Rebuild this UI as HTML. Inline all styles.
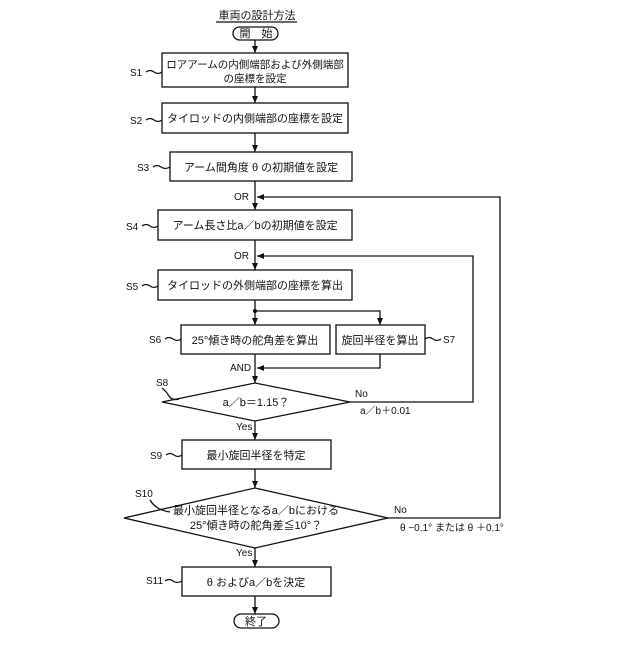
<!DOCTYPE html>
<html><head><meta charset="utf-8"><style>
body{margin:0;background:#fff}
svg text{font-family:"Liberation Sans","Noto Sans CJK JP",sans-serif;fill:#111}
</style></head><body>
<svg width="640" height="640" viewBox="0 0 640 640" xmlns="http://www.w3.org/2000/svg">
<defs><marker id="a" markerWidth="8" markerHeight="8" refX="7" refY="4" orient="auto" markerUnits="userSpaceOnUse"><path d="M0,1 L7,4 L0,7z" fill="#111"/></marker></defs>
<g stroke="#111" stroke-width="1.3" fill="none">
<line x1="216" y1="22" x2="297" y2="22"/>
<rect x="233" y="27" width="45" height="13" rx="6.5"/>
<rect x="162" y="53" width="186" height="34"/>
<rect x="162" y="103" width="186" height="30"/>
<rect x="170" y="152" width="182" height="29"/>
<rect x="158" y="210" width="194" height="30"/>
<rect x="158" y="270" width="194" height="30"/>
<rect x="181" y="325" width="149" height="29"/>
<rect x="336" y="325" width="89" height="29"/>
<polygon points="162,402 255,383 350,402 255,421"/>
<rect x="182" y="440" width="149" height="29"/>
<polygon points="124,518 255,488 388,518 255,548"/>
<rect x="182" y="567" width="149" height="29"/>
<rect x="234" y="614" width="45" height="14" rx="7"/>
<line x1="255" y1="40" x2="255" y2="53" marker-end="url(#a)"/>
<line x1="255" y1="87" x2="255" y2="103" marker-end="url(#a)"/>
<line x1="255" y1="133" x2="255" y2="152" marker-end="url(#a)"/>
<line x1="255" y1="181" x2="255" y2="210" marker-end="url(#a)"/>
<line x1="255" y1="240" x2="255" y2="270" marker-end="url(#a)"/>
<line x1="255" y1="300" x2="255" y2="325" marker-end="url(#a)"/>
<polyline points="255,311 380,311 380,325" marker-end="url(#a)"/>
<line x1="255" y1="354" x2="255" y2="383" marker-end="url(#a)"/>
<polyline points="380,354 380,368 257,368" marker-end="url(#a)"/>
<line x1="255" y1="421" x2="255" y2="440" marker-end="url(#a)"/>
<line x1="255" y1="469" x2="255" y2="488" marker-end="url(#a)"/>
<line x1="255" y1="548" x2="255" y2="567" marker-end="url(#a)"/>
<line x1="255" y1="596" x2="255" y2="614" marker-end="url(#a)"/>
<polyline points="350,402 473,402 473,256 257,256" marker-end="url(#a)"/>
<polyline points="388,518 500,518 500,197 257,197" marker-end="url(#a)"/>
<path d="M146,72 q4,-3 8,0 t8,0"/>
<path d="M146,120 q4,-3 8,0 t8,0"/>
<path d="M153,167 q4,-3 8,0 t9,0"/>
<path d="M142,226 q4,-3 8,0 t8,0"/>
<path d="M142,286 q4,-3 8,0 t8,0"/>
<path d="M165,339 q4,-3 8,0 t8,0"/>
<path d="M425,339 q4,-3 8,0 t8,0"/>
<path d="M162,388 q4,3 7,8 t10,3"/>
<path d="M166,455 q4,-3 8,0 t8,0"/>
<path d="M150,500 q3,5 8,8 t12,4"/>
<path d="M165,581 q4,-3 8,0 t9,0"/>
</g>
<circle cx="255" cy="311" r="2" fill="#111"/>
<g font-size="11" text-anchor="middle">
<text x="257" y="19">車両の設計方法</text>
<text x="256" y="37">開　始</text>
<text x="255" y="68" font-size="10.5">ロアアームの内側端部および外側端部</text>
<text x="255" y="82" font-size="10.5">の座標を設定</text>
<text x="255" y="122">タイロッドの内側端部の座標を設定</text>
<text x="261" y="171">アーム間角度 θ の初期値を設定</text>
<text x="255" y="229">アーム長さ比a／bの初期値を設定</text>
<text x="255" y="289">タイロッドの外側端部の座標を算出</text>
<text x="255" y="344">25°傾き時の舵角差を算出</text>
<text x="380" y="344">旋回半径を算出</text>
<text x="256" y="406">a／b＝1.15？</text>
<text x="256" y="459">最小旋回半径を特定</text>
<text x="256" y="514">最小旋回半径となるa／bにおける</text>
<text x="256" y="529">25°傾き時の舵角差≦10°？</text>
<text x="256" y="586">θ およびa／bを決定</text>
<text x="256" y="625">終了</text>
</g>
<g font-size="10">
<text x="130" y="76">S1</text><text x="130" y="124">S2</text><text x="137" y="171">S3</text>
<text x="126" y="230">S4</text><text x="126" y="290">S5</text><text x="149" y="343">S6</text>
<text x="443" y="343">S7</text><text x="156" y="386">S8</text><text x="150" y="459">S9</text>
<text x="135" y="497">S10</text><text x="146" y="584">S11</text>
<text x="234" y="200">OR</text><text x="234" y="259">OR</text><text x="230" y="371">AND</text>
<text x="355" y="397">No</text><text x="360" y="414">a／b＋0.01</text>
<text x="236" y="430">Yes</text><text x="394" y="513">No</text>
<text x="400" y="531">θ −0.1° または θ ＋0.1°</text><text x="236" y="556">Yes</text>
</g>
</svg>
</body></html>
